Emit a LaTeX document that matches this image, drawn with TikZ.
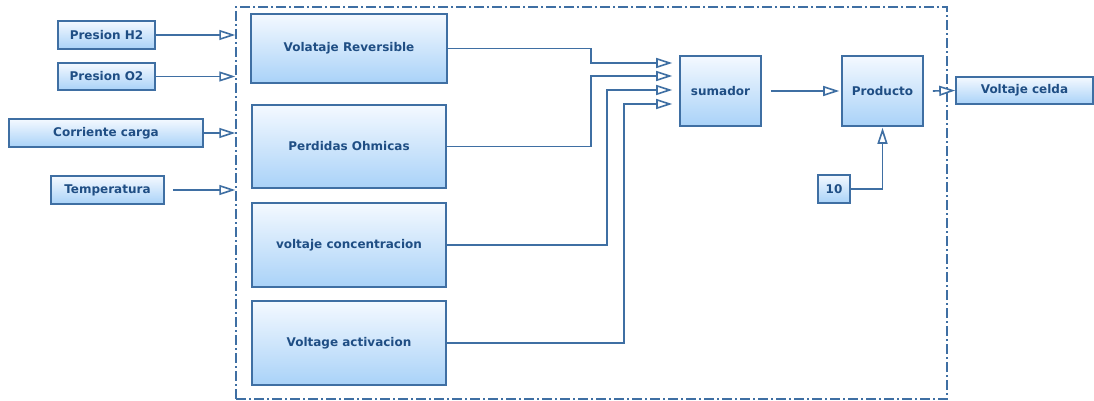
\documentclass[tikz,border=0pt]{standalone}
\usepackage{fontspec}
\setsansfont{DejaVu Sans}
\definecolor{celedge}{HTML}{3F6FA3}
\definecolor{celtext}{HTML}{1F4E84}
\definecolor{celtop}{HTML}{F4F9FF}
\definecolor{celbot}{HTML}{A9D2F8}
\usetikzlibrary{arrows.meta,calc}
\tikzset{
  celbox/.style={draw=celedge,line width=1.6pt,top color=celtop,bottom color=celbot,inner sep=0pt,align=center,font=\sffamily\bfseries\fontsize{12}{14}\selectfont,text=celtext},
  celflow/.style={draw=celedge,line width=1.6pt,-{Triangle[open,length=16pt,width=10pt,fill=white]}},
  celframe/.style={draw=celedge,line width=1.5pt,dash pattern=on 10pt off 3pt on 2pt off 3pt,inner sep=0pt},
}
\begin{document}
\begin{tikzpicture}[x=1pt,y=-1pt]
\useasboundingbox (0,0) rectangle (1094,401);
\node[celframe,minimum width=711pt,minimum height=392pt] (sys) at (591.5,203){};
% inputs
\node[celbox,minimum width=97pt,minimum height=28pt] (ph2) at (106.5,35){Presion H2};
\node[celbox,minimum width=97pt,minimum height=27pt] (po2) at (106.5,76.5){Presion O2};
\node[celbox,minimum width=194pt,minimum height=28pt] (icar) at (106,133){Corriente carga};
\node[celbox,minimum width=113pt,minimum height=28pt] (temp) at (107.5,190){Temperatura};
% sub-models
\node[celbox,minimum width=196pt,minimum height=69pt] (vrev) at (349,48.5){Volataje Reversible};
\node[celbox,minimum width=194pt,minimum height=83pt] (vohm) at (349,146.5){Perdidas Ohmicas};
\node[celbox,minimum width=194pt,minimum height=84pt] (vcon) at (349,245){voltaje concentracion};
\node[celbox,minimum width=194pt,minimum height=84pt] (vact) at (349,343){Voltage activacion};
\node[celbox,minimum width=81pt,minimum height=70pt] (sum) at (720.5,91){sumador};
\node[celbox,minimum width=81pt,minimum height=70pt] (prod) at (882.5,91){Producto};
\node[celbox,minimum width=32pt,minimum height=28pt] (ten) at (834,189){10};
\node[celbox,minimum width=137pt,minimum height=27pt] (vcel) at (1024.5,90.5){Voltaje celda};
% input arrows
\draw[celflow] (ph2.east) -- (ph2.east -| sys.west);
\draw[celflow] (po2.east) -- (po2.east -| sys.west);
\draw[celflow] (icar.east) -- (icar.east -| sys.west);
\draw[celflow] ($(temp.east)+(8,0)$) -- (temp.east -| sys.west);
% to sumador
\draw[celflow] (vrev.east) -| (591,63) -- ($(sum.west)+(-7,-28)$);
\draw[celflow] (vohm.east) -| (591,76) -- ($(sum.west)+(-7,-15)$);
\draw[celflow] (vcon.east) -| (607,90) -- ($(sum.west)+(-7,-1)$);
\draw[celflow] (vact.east) -| (624,104) -- ($(sum.west)+(-7,13)$);
% output chain
\draw[celflow] ($(sum.east)+(9,0)$) -- ($(prod.west)+(-2,0)$);
\draw[celflow] ($(prod.east)+(9,0)$) -- (vcel.west);
\draw[celflow] (ten.east) -| ($(prod.south)+(0,1)$);
\end{tikzpicture}
\end{document}
